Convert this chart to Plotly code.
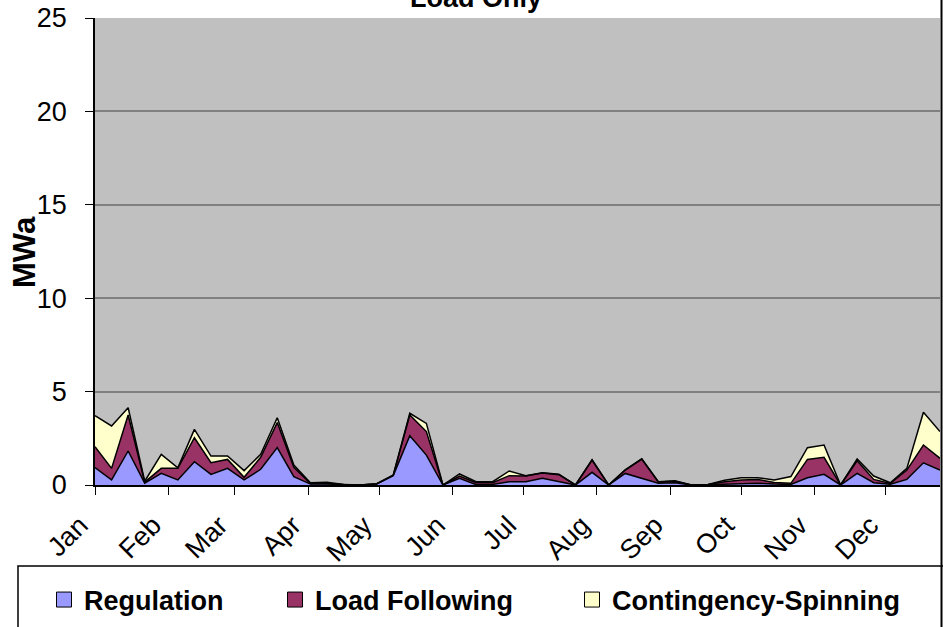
import pandas as pd
import plotly.graph_objects as go

# Weekly dates (category axis)
weeks = pd.date_range("2003-01-01", periods=52, freq="7D")

regulation = [0.93, 0.27, 1.82, 0.10, 0.62, 0.27, 1.25, 0.57, 0.89, 0.27,
              0.84, 2.00, 0.45, 0.05, 0.05, 0.01, 0.00, 0.05, 0.50, 2.64,
              1.60, 0.00, 0.36, 0.02, 0.03, 0.18, 0.18, 0.36, 0.18, 0.00,
              0.68, 0.00, 0.62, 0.36, 0.10, 0.12, 0.00, 0.02, 0.05, 0.09,
              0.09, 0.05, 0.03, 0.39, 0.57, 0.00, 0.62, 0.12, 0.04, 0.30,
              1.19, 0.80]
load_following = [1.12, 0.62, 1.93, 0.05, 0.27, 0.62, 1.28, 0.62, 0.48, 0.14,
                  0.64, 1.34, 0.50, 0.03, 0.05, 0.01, 0.00, 0.01, 0.02, 1.11,
                  1.26, 0.00, 0.12, 0.10, 0.09, 0.32, 0.30, 0.28, 0.37, 0.00,
                  0.66, 0.00, 0.18, 1.03, 0.06, 0.08, 0.00, 0.01, 0.13, 0.18,
                  0.21, 0.09, 0.06, 0.98, 0.91, 0.00, 0.68, 0.18, 0.04, 0.50,
                  0.95, 0.63]
contingency = [1.66, 2.27, 0.39, 0.05, 0.75, 0.03, 0.45, 0.36, 0.18, 0.36,
               0.16, 0.26, 0.12, 0.04, 0.05, 0.01, 0.00, 0.01, 0.01, 0.09,
               0.44, 0.00, 0.11, 0.06, 0.06, 0.25, 0.02, 0.02, 0.02, 0.00,
               0.01, 0.00, 0.01, 0.01, 0.02, 0.03, 0.00, 0.00, 0.07, 0.12,
               0.09, 0.13, 0.36, 0.63, 0.66, 0.00, 0.09, 0.18, 0.04, 0.09,
               1.75, 1.43]

month_ticks = ["2003-01-01", "2003-02-01", "2003-03-01", "2003-04-01",
               "2003-05-01", "2003-06-01", "2003-07-01", "2003-08-01",
               "2003-09-01", "2003-10-01", "2003-11-01", "2003-12-01"]
month_labels = ["Jan", "Feb", "Mar", "Apr", "May", "Jun", "Jul", "Aug",
                "Sep", "Oct", "Nov", "Dec"]

series_names = ["Regulation", "Load Following", "Contingency-Spinning"]
series_colors = ["#9999FF", "#993366", "#FFFFCC"]
series_values = [regulation, load_following, contingency]

FONT = "Liberation Sans, Arial, sans-serif"

fig = go.Figure()
for name, color, vals in zip(series_names, series_colors, series_values):
    fig.add_trace(go.Scatter(
        x=weeks, y=vals, name=name, mode="lines",
        stackgroup="one", fillcolor=color,
        line=dict(color="black", width=1.5),
        showlegend=False, hoverinfo="x+y+name",
    ))

# legend entries (square swatches), each in its own legend for placement
legend_ids = ["legend", "legend2", "legend3"]
for name, color, lid in zip(series_names, series_colors, legend_ids):
    fig.add_trace(go.Scatter(
        x=[None], y=[None], name=name, mode="markers",
        marker=dict(symbol="square", size=15, color=color,
                    line=dict(color="black", width=1)),
        legend=lid, showlegend=True,
    ))

L, R, T, B = 95, 3, 18, 142
W, H = 943, 627
pw = W - L - R
ph = H - T - B


def px2x(px):
    return (px - L) / pw


def py2y(py):
    return (H - B - py) / ph


legend_common = dict(
    orientation="h", yanchor="middle", xanchor="left",
    bgcolor="rgba(0,0,0,0)", borderwidth=0,
    font=dict(family=FONT, size=27, color="black", weight="bold"),
    itemwidth=30,
)

fig.update_layout(
    width=W, height=H,
    margin=dict(l=L, r=R, t=T, b=B, pad=0),
    paper_bgcolor="white",
    plot_bgcolor="#C0C0C0",
    font=dict(family=FONT, color="black"),
    showlegend=True,
    legend=dict(x=px2x(44), y=py2y(600), **legend_common),
    legend2=dict(x=px2x(275), y=py2y(600), **legend_common),
    legend3=dict(x=px2x(572), y=py2y(600), **legend_common),
    xaxis=dict(
        type="date",
        range=[weeks[0], weeks[-1]],
        tickvals=month_ticks, ticktext=month_labels,
        tickangle=-45,
        tickfont=dict(family=FONT, size=27, color="black"),
        ticklabelshift=-15, ticklabelstandoff=4,
        ticks="outside", ticklen=8, tickcolor="black", tickwidth=1,
        showgrid=False, showline=True, linecolor="black", linewidth=1.5,
        zeroline=False,
    ),
    yaxis=dict(
        range=[0, 25], tick0=0, dtick=5,
        tickfont=dict(family=FONT, size=27, color="black"),
        ticks="outside", ticklen=8, tickcolor="black", tickwidth=1,
        ticklabelstandoff=13,
        showgrid=True, gridcolor="#808080", gridwidth=2,
        showline=True, linecolor="black", linewidth=1.5,
        zeroline=False,
    ),
    annotations=[
        dict(text="<b>Load Only</b>", xref="paper", yref="paper",
             x=px2x(476), y=py2y(-1.5), xanchor="center", yanchor="middle",
             showarrow=False, font=dict(family=FONT, size=27, color="black")),
        dict(text="<b>MWa</b>", xref="paper", yref="paper",
             x=px2x(24), y=py2y(252), xanchor="center", yanchor="middle",
             textangle=-90, showarrow=False,
             font=dict(family=FONT, size=31, color="black")),
    ],
    shapes=[
        dict(type="rect", xref="paper", yref="paper",
             x0=px2x(18), x1=px2x(960), y0=py2y(566), y1=py2y(660),
             line=dict(color="black", width=1.5), fillcolor="white", layer="above"),
        dict(type="line", xref="paper", yref="paper",
             x0=px2x(941.5), x1=px2x(941.5), y0=py2y(-5), y1=py2y(640),
             line=dict(color="black", width=2)),
    ],
)

fig.write_html(
    "out.html",
    config={"displayModeBar": False},
    post_script="document.body.style.margin='0';document.body.style.padding='0';",
)
